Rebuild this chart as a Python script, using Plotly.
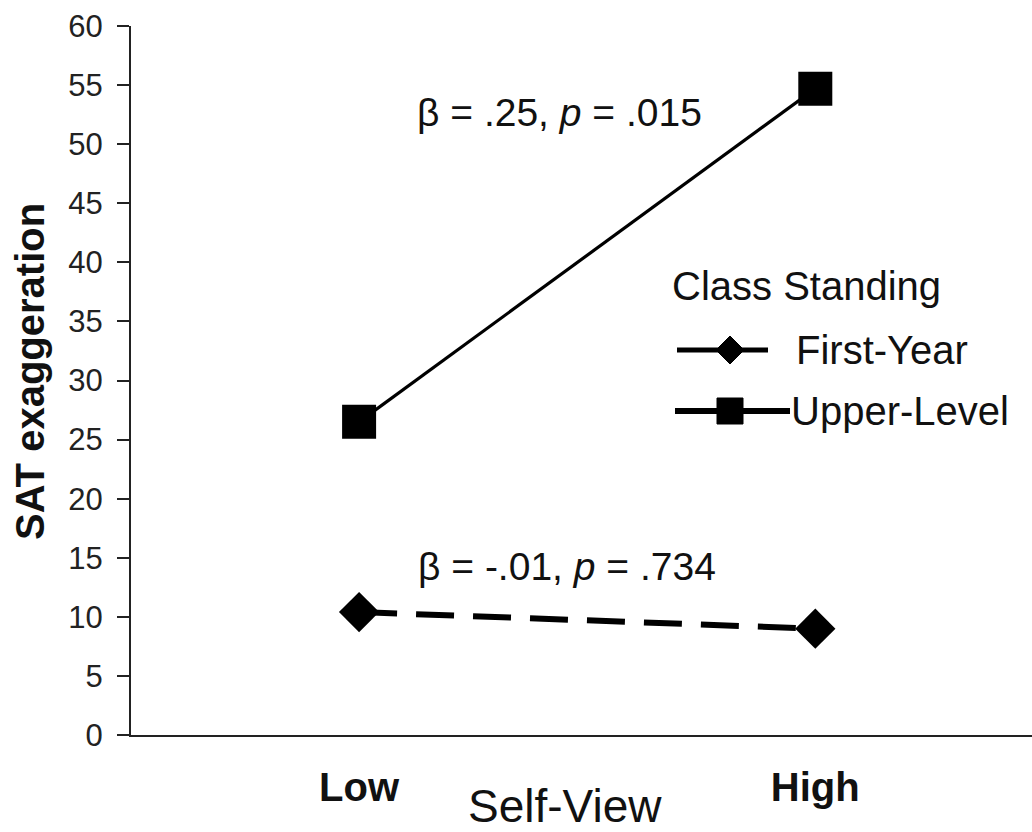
import plotly.graph_objects as go

# Self-view categories and SAT exaggeration means per class standing
self_view = ["Low", "High"]
first_year = [10.4, 9.0]
upper_level = [26.5, 54.7]
y_ticks = [0, 5, 10, 15, 20, 25, 30, 35, 40, 45, 50, 55, 60]

FONT = "Arial, Liberation Sans, Helvetica, sans-serif"
INK = "#111111"

# plot-area geometry in pixels (used to place the hand-drawn legend)
W, H = 1032, 832
L, T, B = 131, 26, 97
PW, PH = W - L, H - T - B


def fx(px):
    return (px - L) / PW


def fy(py):
    return (H - B - py) / PH


x_pos = list(range(len(self_view)))

fig = go.Figure()

fig.add_trace(go.Scatter(
    x=x_pos, y=first_year, mode="lines+markers", name="First-Year",
    line=dict(color="black", width=6, dash="38px,19px"),
    marker=dict(symbol="diamond", size=31, color="black"),
    cliponaxis=False, showlegend=False,
))
fig.add_trace(go.Scatter(
    x=x_pos, y=upper_level, mode="lines+markers", name="Upper-Level",
    line=dict(color="black", width=3.2),
    marker=dict(symbol="square", size=34, color="black"),
    cliponaxis=False, showlegend=False,
))

annotations = [
    # slope statistics
    dict(x=fx(415), y=fy(112), xref="paper", yref="paper", xanchor="left", yanchor="middle",
         text="β = .25, <i>p</i> = .015", showarrow=False, font=dict(size=39, color=INK, family=FONT)),
    dict(x=fx(416), y=fy(566), xref="paper", yref="paper", xanchor="left", yanchor="middle",
         text="β = -.01, <i>p</i> = .734", showarrow=False, font=dict(size=39, color=INK, family=FONT)),
    # axis titles
    dict(x=fx(30), y=fy(372), xref="paper", yref="paper", xanchor="center", yanchor="middle",
         text="<b>SAT exaggeration</b>", textangle=-90, showarrow=False,
         font=dict(size=40, color=INK, family=FONT)),
    dict(x=fx(565), y=fy(806), xref="paper", yref="paper", xanchor="center", yanchor="middle",
         text="Self-View", showarrow=False, font=dict(size=46, color=INK, family=FONT)),
    # legend texts
    dict(x=fx(670), y=fy(286), xref="paper", yref="paper", xanchor="left", yanchor="middle",
         text="Class Standing", showarrow=False, font=dict(size=40, color=INK, family=FONT)),
    dict(x=fx(794), y=fy(350), xref="paper", yref="paper", xanchor="left", yanchor="middle",
         text="First-Year", showarrow=False, font=dict(size=40, color=INK, family=FONT)),
    dict(x=fx(789), y=fy(411), xref="paper", yref="paper", xanchor="left", yanchor="middle",
         text="Upper-Level", showarrow=False, font=dict(size=40, color=INK, family=FONT)),
]

shapes = [
    # First-Year legend sample
    dict(type="line", xref="paper", yref="paper", x0=fx(677), x1=fx(768), y0=fy(350), y1=fy(350),
         line=dict(color="black", width=5)),
    dict(type="path", xref="paper", yref="paper",
         path=f"M {fx(730)},{fy(336)} L {fx(744)},{fy(350)} L {fx(730)},{fy(364)} L {fx(716)},{fy(350)} Z",
         fillcolor="black", line=dict(color="black", width=1)),
    # Upper-Level legend sample
    dict(type="line", xref="paper", yref="paper", x0=fx(675), x1=fx(790), y0=fy(411), y1=fy(411),
         line=dict(color="black", width=6)),
    dict(type="rect", xref="paper", yref="paper", x0=fx(717), x1=fx(743), y0=fy(398), y1=fy(424),
         fillcolor="black", line=dict(color="black", width=1)),
]

fig.update_layout(
    width=W, height=H,
    margin=dict(l=L, r=0, t=T, b=B, pad=0),
    paper_bgcolor="white", plot_bgcolor="white",
    showlegend=False,
    annotations=annotations,
    shapes=shapes,
    xaxis=dict(
        range=[-0.5, 1.475], tickmode="array", tickvals=x_pos, ticktext=self_view,
        ticks="", showline=True, linecolor="#222222", linewidth=2,
        showgrid=False, zeroline=False, ticklabelstandoff=16,
        tickfont=dict(size=40, color=INK, family=FONT, weight="bold"),
    ),
    yaxis=dict(
        range=[0, 60], tickmode="array", tickvals=y_ticks,
        ticks="outside", ticklen=12, tickwidth=2, tickcolor="#222222",
        showline=True, linecolor="#222222", linewidth=2,
        showgrid=False, zeroline=False, ticklabelstandoff=8,
        tickfont=dict(size=31, color="#222222", family=FONT),
    ),
)

fig.write_html("out.html")
